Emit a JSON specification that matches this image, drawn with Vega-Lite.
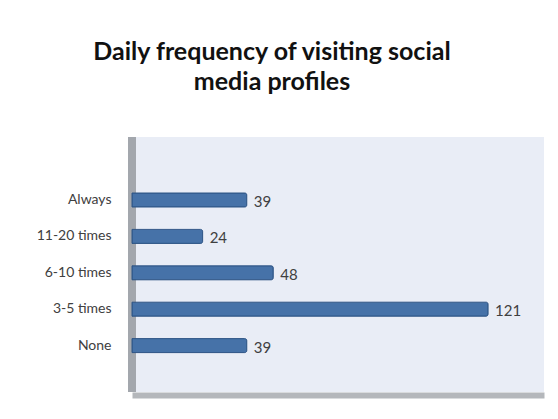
{
  "$schema": "https://vega.github.io/schema/vega-lite/v6.json",
  "autosize": {"type": "none"},
  "width": 412,
  "height": 255,
  "padding": {"left": 132, "top": 137, "right": 14, "bottom": 27},
  "background": "white",
  "title": {
    "text": ["Daily frequency of visiting social", "media profiles"],
    "font": "Lato",
    "fontSize": 25,
    "fontWeight": "bold",
    "color": "#111111",
    "anchor": "middle",
    "dx": -66,
    "offset": 38,
    "lineHeight": 30
  },
  "data": {
    "values": [
      {"category": "Always", "value": 39},
      {"category": "11-20 times", "value": 24},
      {"category": "6-10 times", "value": 48},
      {"category": "3-5 times", "value": 121},
      {"category": "None", "value": 39}
    ]
  },
  "layer": [
    {
      "mark": {"type": "rule", "color": "#A3A7AD", "strokeWidth": 8},
      "encoding": {"x": {"datum": 0, "type": "quantitative"}}
    },
    {
      "mark": {"type": "bar", "color": "#4672A8", "stroke": "#2F5687", "strokeWidth": 1, "cornerRadiusEnd": 2},
      "encoding": {
        "y": {
          "field": "category",
          "type": "nominal",
          "sort": null,
          "scale": {"range": [56, 215.6], "paddingInner": 0.615, "paddingOuter": 0},
          "axis": {
            "title": null,
            "ticks": false,
            "domain": false,
            "labelFont": "Lato",
            "labelFontSize": 14,
            "labelColor": "#404040",
            "labelPadding": 21
          }
        },
        "x": {"field": "value", "type": "quantitative"}
      }
    },
    {
      "mark": {"type": "text", "align": "left", "baseline": "middle", "dx": 7, "dy": 2, "font": "Lato", "fontSize": 15, "color": "#404040"},
      "encoding": {
        "y": {"field": "category", "type": "nominal", "sort": null},
        "x": {"field": "value", "type": "quantitative"},
        "text": {"field": "value", "type": "quantitative"}
      }
    }
  ],
  "encoding": {
    "x": {
      "type": "quantitative",
      "scale": {"domain": [0, 140], "nice": false},
      "axis": {
        "title": null,
        "labels": false,
        "ticks": false,
        "grid": false,
        "domainColor": "#B4B7BB",
        "domainWidth": 6,
        "offset": 3
      }
    }
  },
  "config": {
    "view": {"fill": "#E9EDF6", "stroke": null}
  }
}
